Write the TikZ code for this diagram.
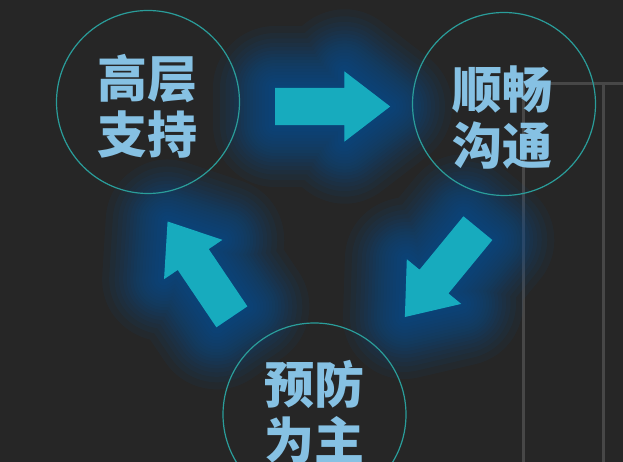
\documentclass[tikz,border=0pt]{standalone}
\usepackage{fontspec}
\usetikzlibrary{shapes.arrows}
\newfontfamily\cjk{Noto Sans CJK SC}
\definecolor{bg}{HTML}{262626}
\definecolor{ringcol}{HTML}{2A9D9A}
\definecolor{flowcol}{HTML}{17ABBE}
\definecolor{glowcol}{HTML}{08549A}
\definecolor{wordcol}{HTML}{86C1E3}
\definecolor{framecol}{HTML}{474747}
\tikzset{
  ring/.style={circle, draw=ringcol, line width=1.2pt, minimum size=183pt, inner sep=0pt},
  word/.style={text=wordcol, font=\cjk\bfseries\fontsize{50}{56}\selectfont, align=center, inner sep=0pt},
  flow/.style={single arrow, anchor=tail, minimum height=115pt, minimum width=70pt, single arrow head extend=16.5pt, single arrow tip angle=75, inner xsep=0pt, inner ysep=18.5pt},
  glow/.style={draw=glowcol, fill=glowcol, line join=round, opacity=0.075},
  frame/.style={draw=framecol, line width=3pt}
}
\begin{document}
\begin{tikzpicture}[x=1pt,y=1pt]
    \useasboundingbox (0,0) rectangle (623,462);
    \clip (0,0) rectangle (623,462);
    \fill[bg] (0,0) rectangle (623,462);
    \draw[frame] (523,0) |- (623,378);
    \draw[frame] (603,0) -- (603,378);

    \foreach \ang/\px/\py in {0/275/355.5, -129.4/478/234, 124/232/145}{
        \begin{scope}[shift={(\px,\py)}, rotate=\ang]
            \foreach \w in {124,110,99,90,82,75,68,62,56,50,44,38,32,26,20,13,6}
                \draw[glow, line width=\w pt] (0,18.5) -- (69.4,18.5) -- (69.4,35) -- (115,0) -- (69.4,-35) -- (69.4,-18.5) -- (0,-18.5) -- cycle;
        \end{scope}
    }

    \node[ring] (support) at (148,360) {};
    \node[ring] (comm) at (504,358) {};
    \node[ring] (prevent) at (314.5,47.5) {};

    \node[word] (supporttext) at (147,356) {高层\\支持};
    \node[word] (commtext) at (502,344) {顺畅\\沟通};
    \node[word] (preventtext) at (314,50) {预防\\为主};

    \node[flow, fill=flowcol] (flowa) at (275,355.5) {};
    \node[flow, fill=flowcol, rotate=-129.4] (flowb) at (478,234) {};
    \node[flow, fill=flowcol, rotate=124] (flowc) at (232,145) {};
\end{tikzpicture}
\end{document}
